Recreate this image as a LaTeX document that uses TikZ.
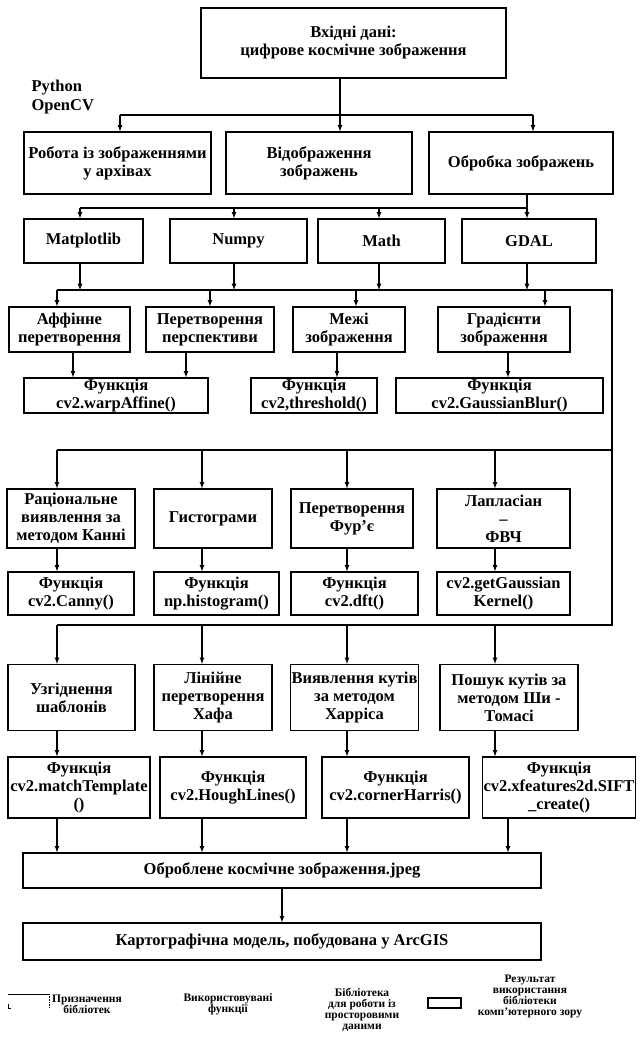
\documentclass[tikz,border=0pt]{standalone}
\usepackage{fontspec}
\setmainfont{Liberation Serif}
\usetikzlibrary{positioning,arrows}
\tikzset{B node/.style={draw,rectangle,align=center,inner sep=1pt,font=\bfseries\fontsize{16.5}{18}\selectfont},
	L node/.style={align=center,inner sep=0pt,font=\bfseries\fontsize{11.5}{11}\selectfont},}

\begin{document}
\begin{tikzpicture}[x=1pt,y=-1pt,line width=1.2pt,>=latex]
	\useasboundingbox (0,0) rectangle (640,1037);

	% source and the three kinds of work
	\node[B node,minimum width=305pt,minimum height=70pt] (in) at (353.5,43) {Вхідні дані:\\цифрове космічне зображення};
	\node[anchor=west,align=left,inner sep=0pt,font=\bfseries\fontsize{16.5}{19}\selectfont] (py) at (31,97.5) {Python\\OpenCV};

	\node[B node,minimum width=187pt,minimum height=62pt] (rob) at (117.5,163) {Робота із зображеннями\\у архівах};
	\node[B node,minimum width=186pt,minimum height=62pt] (vid) at (319,163) {Відображення\\зображень};
	\node[B node,minimum width=184pt,minimum height=62pt] (obr) at (521,163) {Обробка зображень};

	% libraries
	\node[B node,minimum width=119pt,minimum height=44pt] (mpl) at (83.5,241) {Matplotlib};
	\node[B node,minimum width=137pt,minimum height=44pt] (npy) at (238.5,241) {Numpy};
	\node[B node,minimum width=127pt,minimum height=44pt] (math) at (381.5,241) {Math};
	\node[B node,minimum width=134pt,minimum height=44pt] (gdal) at (529,241) {GDAL};

	\node[B node,minimum width=121pt,minimum height=45pt] (aff) at (69.5,329.5) {Аффінне\\перетворення};
	\node[B node,minimum width=128pt,minimum height=45pt] (persp) at (210,329.5) {Перетворення\\перспективи};
	\node[B node,minimum width=112pt,minimum height=45pt] (mezhi) at (349,329.5) {Межі\\зображення};
	\node[B node,minimum width=132pt,minimum height=45pt] (grad) at (504,329.5) {Градієнти\\зображення};

	\node[B node,minimum width=184pt,minimum height=35pt] (warp) at (116,395.5) {Функція\\cv2.warpAffine()};
	\node[B node,minimum width=126pt,minimum height=35pt] (thr) at (314,395.5) {Функція\\cv2,threshold()};
	\node[B node,minimum width=207pt,minimum height=35pt] (gblur) at (499.5,395.5) {Функція\\cv2.GaussianBlur()};

	\node[B node,minimum width=128pt,minimum height=59pt] (rac) at (71,518.5) {Раціональне\\виявлення за\\методом Канні};
	\node[B node,minimum width=118pt,minimum height=59pt] (hist) at (213,518.5) {Гистограми};
	\node[B node,minimum width=122pt,minimum height=59pt] (four) at (352,518.5) {Перетворення\\Фур’є};
	\node[B node,minimum width=133pt,minimum height=59pt] (lap) at (503.5,518.5) {Лапласіан\\–\\ФВЧ};

	\node[B node,minimum width=126pt,minimum height=43pt] (canny) at (71,593.5) {Функція\\cv2.Canny()};
	\node[B node,minimum width=125pt,minimum height=43pt] (nphist) at (216.5,593.5) {Функція\\np.histogram()};
	\node[B node,minimum width=127pt,minimum height=43pt] (dft) at (354.5,593.5) {Функція\\cv2.dft()};
	\node[B node,minimum width=133pt,minimum height=43pt] (getg) at (503.5,593.5) {cv2.getGaussian\\Kernel()};

	\node[B node,minimum width=127pt,minimum height=66pt] (uzg) at (71.5,697.5) {Узгіднення\\шаблонів};
	\node[B node,minimum width=118pt,minimum height=66pt] (lin) at (213,697.5) {Лінійне\\перетворення\\Хафа};
	\node[B node,minimum width=127pt,minimum height=66pt] (vyav) at (354.5,697.5) {Виявлення кутів\\за методом\\Харріса};
	\node[B node,minimum width=138pt,minimum height=66pt] (posh) at (509,697.5) {Пошук кутів за\\методом Ши -\\Томасі};

	\node[B node,minimum width=142pt,minimum height=61pt] (match) at (79,787.5) {Функція\\cv2.matchTemplate\\()};
	\node[B node,minimum width=146pt,minimum height=61pt] (hough) at (233,787.5) {Функція\\cv2.HoughLines()};
	\node[B node,minimum width=147pt,minimum height=61pt] (corner) at (395.5,787.5) {Функція\\cv2.cornerHarris()};
	\node[B node,minimum width=150pt,minimum height=61pt] (xfeat) at (559,787.5) {Функція\\cv2.xfeatures2d.SIFT\\\_create()};

	\node[B node,minimum width=518pt,minimum height=35pt] (obrob) at (282,870.5) {Оброблене космічне зображення.jpeg};
	\node[B node,minimum width=518pt,minimum height=37pt] (kart) at (282,941.5) {Картографічна модель, побудована у ArcGIS};

	% buses
	\coordinate (k1a) at (120,115);
	\coordinate (k1b) at (340,115);
	\coordinate (k1c) at (533,115);
	\draw (in.south -| k1b) -- (k1b);
	\draw (k1a) -- (k1c);
	\foreach \k/\n in {k1a/rob,k1b/vid,k1c/obr}
		\draw[->] (\k) -- (\n.north -| \k);

	\coordinate (k2a) at (80,208);
	\coordinate (k2b) at (234,208);
	\coordinate (k2c) at (379,208);
	\coordinate (k2d) at (527,208);
	\draw[->] (obr.south -| k2d) -- (gdal.north -| k2d);
	\draw (k2a) -- (k2d);
	\foreach \k/\n in {k2a/mpl,k2b/npy,k2c/math}
		\draw[->] (\k) -- (\n.north -| \k);

	\coordinate (k3l) at (57,290);
	\coordinate (k3r) at (612,290);
	\coordinate (k4l) at (57,450);
	\coordinate (k4r) at (612,450);
	\coordinate (k5l) at (57,625);
	\coordinate (k5r) at (612,625);
	\foreach \k/\n in {k2a/mpl,k2b/npy,k2c/math,k2d/gdal}
		\draw[->] (\n.south -| \k) -- (k3l -| \k);
	\draw (k3l) -- (k3r) -- (k5r) -- (k5l);
	\draw (k4l) -- (k4r);

	\coordinate (k3a) at (57,290);
	\coordinate (k3b) at (210,290);
	\coordinate (k3c) at (356,290);
	\coordinate (k3d) at (545,290);
	\foreach \k/\n in {k3a/aff,k3b/persp,k3c/mezhi,k3d/grad}
		\draw[->] (\k) -- (\n.north -| \k);

	\coordinate (p1) at (73,360);
	\coordinate (p2) at (186,360);
	\coordinate (p3) at (337,360);
	\coordinate (p4) at (508,360);
	\foreach \k/\n/\m in {p1/aff/warp,p2/persp/warp,p3/mezhi/thr,p4/grad/gblur}
		\draw[->] (\n.south -| \k) -- (\m.north -| \k);

	\coordinate (k4a) at (57,450);
	\coordinate (k4b) at (202,450);
	\coordinate (k4c) at (347,450);
	\coordinate (k4d) at (495,450);
	\foreach \k/\n in {k4a/rac,k4b/hist,k4c/four,k4d/lap}
		\draw[->] (\k) -- (\n.north -| \k);
	\foreach \k/\n/\m in {k4a/rac/canny,k4b/hist/nphist,k4c/four/dft,k4d/lap/getg}
		\draw[->] (\n.south -| \k) -- (\m.north -| \k);

	\coordinate (k5a) at (57,625);
	\coordinate (k5b) at (202,625);
	\coordinate (k5c) at (347,625);
	\coordinate (k5d) at (495,625);
	\foreach \k/\n in {k5a/uzg,k5b/lin,k5c/vyav,k5d/posh}
		\draw[->] (\k) -- (\n.north -| \k);
	\foreach \k/\n/\m in {k5a/uzg/match,k5b/lin/hough,k5c/vyav/corner,k5d/posh/xfeat}
		\draw[->] (\n.south -| \k) -- (\m.north -| \k);

	\coordinate (q4) at (508,840);
	\foreach \k/\n in {k5a/match,k5b/hough,k5c/corner,q4/xfeat}
		\draw[->] (\n.south -| \k) -- (obrob.north -| \k);
	\draw[->] (obrob.south) -- (kart.north);

	% legend
	\draw[line width=0.6pt] (8,994) -- (49,994);
	\draw[line width=0.6pt,densely dotted] (49,994) -- (49,1008);
	\draw[line width=0.6pt] (8,1004) -- (8,1008) -- (11,1008);
	\node[L node] (lg1) at (87,1004.5) {Призначення\\бібліотек};
	\node[L node] (lg2) at (228,1004.5) {Використовувані\\функції};
	\node[L node,anchor=north] (lg3) at (362,988) {Бібліотека\\для роботи із\\просторовими\\даними};
	\node[draw,line width=2.5pt,minimum width=33pt,minimum height=10pt,inner sep=0pt] (lg4s) at (444.5,1003) {};
	\node[L node] (lg4) at (530,996) {Результат\\використання\\бібліотеки\\комп’ютерного зору};
\end{tikzpicture}
\end{document}
